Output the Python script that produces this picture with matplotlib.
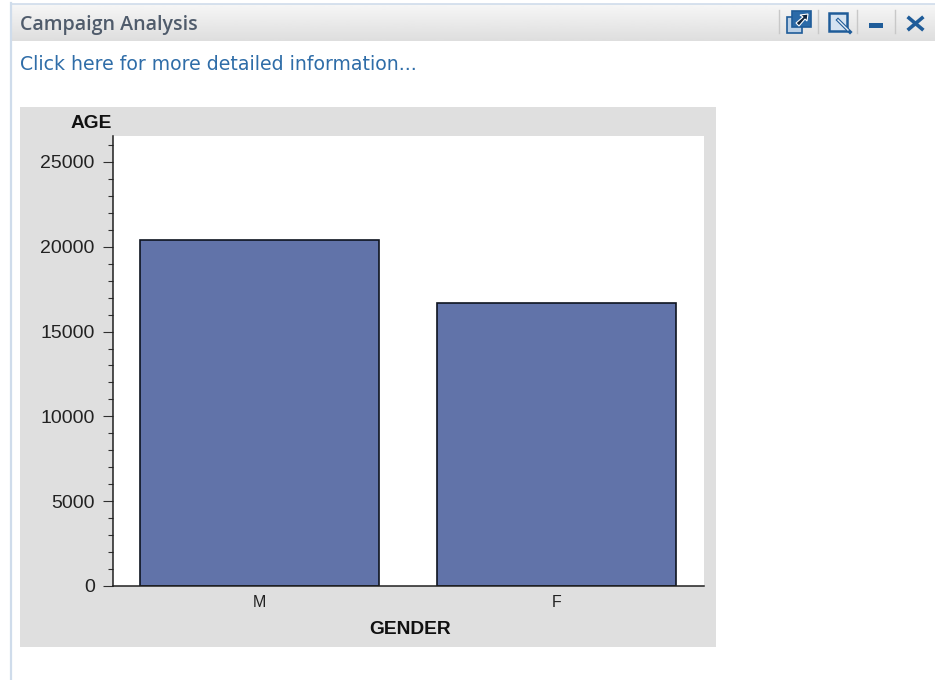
#!/usr/bin/env python3
import matplotlib
matplotlib.use("Agg")
import matplotlib.pyplot as plt
import numpy as np
from matplotlib.patches import Polygon, Rectangle
from matplotlib.ticker import MultipleLocator

WIDTH = 935
HEIGHT = 680

CATEGORIES = ["M", "F"]
AGE_VALUES = [20400, 16680]
Y_TICKS = [0, 5000, 10000, 15000, 20000, 25000]

BAR_COLOR = "#6173A9"
PANEL_COLOR = "#DFDFDF"
ICON_COLOR = "#1F5C99"
FRAME_COLOR = "#CFDCEB"

plt.rcParams["font.family"] = ["Liberation Sans", "DejaVu Sans"]

fig = plt.figure(figsize=(WIDTH / 100, HEIGHT / 100), dpi=100, facecolor="white")

# page furniture is laid out in screen pixels, y going down
page = fig.add_axes([0, 0, 1, 1], zorder=0)
page.set_xlim(0, WIDTH)
page.set_ylim(HEIGHT, 0)
page.axis("off")

gradient = np.linspace(0.965, 0.87, 64).reshape(-1, 1)
page.imshow(gradient, extent=(11, WIDTH, 41, 4), cmap="gray", vmin=0, vmax=1,
            aspect="auto", zorder=1)
page.set_xlim(0, WIDTH)
page.set_ylim(HEIGHT, 0)
page.plot([11, 11], [3, HEIGHT], color=FRAME_COLOR, lw=1.6, zorder=2)
page.plot([11, WIDTH], [3.5, 3.5], color=FRAME_COLOR, lw=1.2, zorder=2)
page.add_patch(Rectangle((19.5, 107), 696, 540, color=PANEL_COLOR, lw=0, zorder=1))

page.text(20, 25, "Campaign Analysis", fontsize=14.1, family=["Open Sans", "DejaVu Sans"],
          fontweight="semibold", color="#4F5B6B", va="center", ha="left", zorder=3)
page.text(19.5, 64, "Click here for more detailed information...", fontsize=13.6,
          family=["DejaVu Sans"], color="#2F6DA8", va="center", ha="left", zorder=3)

# toolbar separators and icons
for sep_x in [779, 818, 857, 895]:
    page.plot([sep_x, sep_x], [10, 33], color="#C8C8C8", lw=1, zorder=3)
page.add_patch(Rectangle((787, 17), 15, 16, fc="#BBD0E6", ec=ICON_COLOR, lw=1.2, zorder=3))
page.add_patch(Rectangle((792, 11), 19, 16, fc="#2B6AA8", ec=ICON_COLOR, lw=1.2, zorder=4))
page.add_patch(Polygon([(796, 23), (803, 17), (800, 15), (808, 14), (807, 21), (805, 19), (799, 26)],
                       fc="#10243C", ec="white", lw=0.8, zorder=5))
page.add_patch(Rectangle((829, 13), 18, 18, fc="#D5E3F1", ec=ICON_COLOR, lw=1.8, zorder=3))
page.plot([838, 850], [20, 32], color=ICON_COLOR, lw=2.6, zorder=4)
page.plot([838, 848], [20, 30], color="#E8EEF5", lw=1, zorder=5)
page.add_patch(Rectangle((869, 23), 14, 5, fc=ICON_COLOR, ec="none", zorder=3))
page.plot([909, 922], [18, 29], color=ICON_COLOR, lw=2.6, zorder=3)
page.plot([909, 922], [29, 18], color=ICON_COLOR, lw=2.6, zorder=3)

# plot area: x 113-704, y 136-586
ax = fig.add_axes([113 / WIDTH, 1 - 586 / HEIGHT, 591 / WIDTH, 450 / HEIGHT],
                  facecolor="white", zorder=2)
x = np.arange(len(CATEGORIES))
ax.bar(x, AGE_VALUES, width=0.805, color=BAR_COLOR, edgecolor="#0E1420", linewidth=1.2)

ax.set_xlim(-0.493, 1.497)
ax.set_ylim(0, 26530)
ax.set_xticks(x)
ax.set_xticklabels(CATEGORIES)
ax.set_yticks(Y_TICKS)
ax.yaxis.set_minor_locator(MultipleLocator(1000))

for side in ["top", "right"]:
    ax.spines[side].set_visible(False)
for side in ["left", "bottom"]:
    ax.spines[side].set_linewidth(1.1)
    ax.spines[side].set_color("#202020")

ax.tick_params(axis="y", which="major", length=7.2, width=0.8, labelsize=14,
               pad=6, color="#303030", labelcolor="#222222")
ax.tick_params(axis="y", which="minor", length=3.5, width=0.8, color="#303030")
ax.tick_params(axis="x", which="major", length=0, labelsize=11.5, pad=6.5, labelcolor="#222222")

fig.text(91.5 / WIDTH, 1 - 123 / HEIGHT, "AGE", fontsize=13.8, fontweight="bold",
         color="#111111", ha="center", va="center", zorder=3)
fig.text(410.5 / WIDTH, 1 - 629 / HEIGHT, "GENDER", fontsize=13.8, fontweight="bold",
         color="#111111", ha="center", va="center", zorder=3)

fig.savefig("out.png", dpi=100)
